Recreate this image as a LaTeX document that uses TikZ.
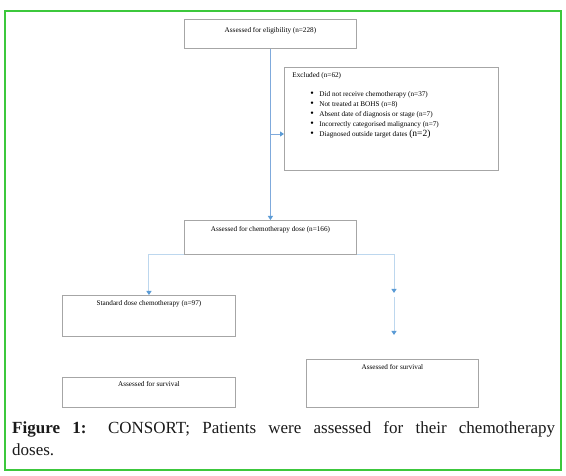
\documentclass[tikz,border=0pt]{standalone}
\usepackage{fontspec}
\setmainfont{Liberation Serif}
\usetikzlibrary{arrows.meta}
\definecolor{frameg}{HTML}{3CC83C}
\definecolor{boxgray}{HTML}{A6A6A6}
\definecolor{arrblue}{HTML}{5B9BD5}
\definecolor{mainblue}{HTML}{7FAADC}
\definecolor{lineblue}{HTML}{BDD7EE}
\definecolor{captxt}{HTML}{1A1A1A}
\tikzset{
  box/.style={draw=boxgray, line width=0.9pt, rectangle, inner sep=0pt, anchor=north west,
    font=\fontsize{7.2}{8.5}\selectfont},
  tipb/.style={-{Triangle[width=5pt,length=4pt,color=arrblue]}},
  conn/.style={draw=mainblue, line width=0.9pt, tipb},
  branch/.style={draw=lineblue, line width=1pt},
}
\newcommand{\bx}[4]{\parbox[t][#2][t]{#1}{\centering\rule{0pt}{#3}#4}}
\newcommand{\bul}{\makebox[9pt][l]{\fontsize{10}{10}\selectfont\textbullet}}
\begin{document}
\begin{tikzpicture}[x=1pt,y=-1pt]
\useasboundingbox (0,0) rectangle (566,476);
\draw[frameg, line width=1.5pt] (5,11) rectangle (561,470);

\node[box] (b1) at (184,19) {\bx{172pt}{29pt}{13.5pt}{Assessed for eligibility (n=228)}};
\node[box] (exc) at (284,67) {\parbox[t][103pt][t]{214pt}{\raggedright\fontsize{7.2}{10}\selectfont
  \leftskip=8pt\rule{0pt}{10pt}Excluded (n=62)\par
  \vspace{9pt}\leftskip=26pt
  \bul Did not receive chemotherapy (n=37)\par
  \bul Not treated at BOHS (n=8)\par
  \bul Absent date of diagnosis or stage (n=7)\par
  \bul Incorrectly categorised malignancy (n=7)\par
  \bul Diagnosed outside target dates {\fontsize{9.5}{10}\selectfont(n=2)}\par}};
\node[box] (b2) at (184,220) {\bx{172pt}{34pt}{11.5pt}{Assessed for chemotherapy dose (n=166)}};
\node[box] (std) at (62,295) {\bx{173pt}{41pt}{10pt}{Standard dose chemotherapy (n=97)}};
\node[box] (sl) at (62,377) {\bx{173pt}{30pt}{9pt}{Assessed for survival}};
\node[box] (sr) at (306,359) {\bx{172pt}{48pt}{10.5pt}{Assessed for survival}};

\draw[conn] (b1.south) -- (b2.north);
\coordinate (j) at (270,134);
\draw[conn] (j) -- (j -| exc.west);
\draw[branch, tipb] (b2.south west) -| (std.north);
\coordinate (r1) at (394,293);
\coordinate (r2) at (394,297);
\coordinate (r3) at (394,335);
\draw[branch, tipb] (b2.south east) -| (r1);
\draw[branch, tipb] (r2) -- (r3);

\node[inner sep=0pt, anchor=north west, text=captxt] (cap) at (12,418)
  {\parbox[t]{543pt}{\fontsize{17}{22}\selectfont\rule{0pt}{15pt}\textbf{Figure 1:} CONSORT; Patients were assessed for their chemotherapy\linebreak doses.}};
\end{tikzpicture}
\end{document}
